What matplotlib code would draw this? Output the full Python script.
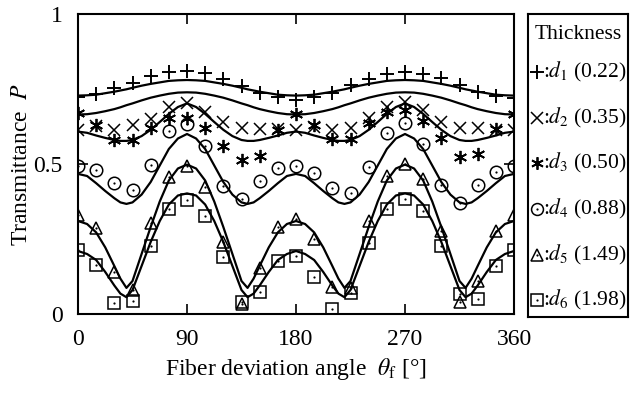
import numpy as np
import matplotlib
matplotlib.use("Agg")
import matplotlib.pyplot as plt

plt.rcParams["font.family"] = ["Liberation Serif", "DejaVu Serif"]
plt.rcParams["mathtext.fontset"] = "stix"

# ---------------- data ----------------
angles = [0, 15, 30, 45, 60, 75, 90, 105, 120, 135, 150, 165, 180,
          195, 210, 225, 240, 255, 270, 285, 300, 315, 330, 345, 360]

d1 = [0.722, 0.733, 0.752, 0.771, 0.792, 0.808, 0.811, 0.802, 0.782, 0.760, 0.737, 0.722, 0.714,
      0.722, 0.738, 0.762, 0.782, 0.801, 0.806, 0.800, 0.788, 0.762, 0.741, 0.727, 0.719]
d2 = [0.612, 0.628, 0.613, 0.630, 0.649, 0.691, 0.702, 0.674, 0.641, 0.619, 0.618, 0.616, 0.613,
      0.622, 0.613, 0.619, 0.652, 0.691, 0.708, 0.680, 0.641, 0.619, 0.619, 0.615, 0.613]
d3 = [0.669, 0.630, 0.580, 0.580, 0.619, 0.652, 0.652, 0.619, 0.559, 0.515, 0.527, 0.615, 0.666,
      0.630, 0.582, 0.582, 0.638, 0.674, 0.680, 0.643, 0.586, 0.524, 0.532, 0.617, 0.666]
d4 = [0.493, 0.481, 0.437, 0.412, 0.497, 0.610, 0.633, 0.560, 0.428, 0.384, 0.444, 0.486, 0.493,
      0.469, 0.419, 0.402, 0.491, 0.604, 0.638, 0.567, 0.430, 0.371, 0.430, 0.474, 0.493]
d5 = [0.330, 0.288, 0.140, 0.080, 0.302, 0.456, 0.492, 0.423, 0.240, 0.035, 0.154, 0.291, 0.316,
      0.249, 0.091, 0.086, 0.311, 0.460, 0.500, 0.449, 0.278, 0.041, 0.111, 0.278, 0.330]
d6 = [0.212, 0.162, 0.037, 0.044, 0.226, 0.349, 0.379, 0.327, 0.190, 0.040, 0.074, 0.176, 0.193,
      0.124, 0.016, 0.071, 0.238, 0.349, 0.382, 0.344, 0.227, 0.067, 0.049, 0.160, 0.213]

# fitted curves, read over one quarter period (0-90 deg); curves repeat symmetrically
curve_angles = [0, 7.5, 15, 22.5, 30, 35, 40, 45, 52.5, 60, 67.5, 75, 82.5, 90]
c1 = [0.728, 0.729, 0.731, 0.736, 0.741, 0.745, 0.749, 0.754, 0.761, 0.767, 0.772, 0.777, 0.779, 0.780]
c2 = [0.665, 0.666, 0.670, 0.676, 0.683, 0.689, 0.696, 0.702, 0.712, 0.721, 0.728, 0.734, 0.738, 0.739]
c3 = [0.608, 0.604, 0.595, 0.587, 0.580, 0.577, 0.577, 0.580, 0.593, 0.614, 0.640, 0.667, 0.690, 0.702]
c4 = [0.467, 0.460, 0.436, 0.410, 0.386, 0.372, 0.367, 0.372, 0.398, 0.440, 0.495, 0.550, 0.585, 0.600]
c5 = [0.310, 0.300, 0.272, 0.222, 0.160, 0.118, 0.087, 0.110, 0.200, 0.290, 0.375, 0.445, 0.485, 0.498]
c6 = [0.210, 0.200, 0.180, 0.140, 0.095, 0.068, 0.056, 0.080, 0.160, 0.240, 0.310, 0.365, 0.395, 0.402]

labels = ["1", "2", "3", "4", "5", "6"]
thick = ["0.22", "0.35", "0.50", "0.88", "1.49", "1.98"]
xticks = [0, 90, 180, 270, 360]
yticks = [0, 0.5, 1]
ytick_labels = ["0", "0.5", "1"]

# ---------------- helpers ----------------
def full_curve(a, v):
    a = np.asarray(a, float)
    v = np.asarray(v, float)
    fa = np.concatenate([a, 180 - a[::-1][1:], 180 + a[1:], 360 - a[::-1][1:]])
    fv = np.concatenate([v, v[::-1][1:], v[1:], v[::-1][1:]])
    return fa, fv

fig = plt.figure(figsize=(6.3, 3.94), dpi=100)
ax = fig.add_axes([78 / 630, 80 / 394, 436 / 630, 300 / 394])

for c in [c1, c2, c3, c4, c5, c6]:
    fa, fv = full_curve(curve_angles, c)
    ax.plot(fa, fv, color="black", lw=1.6, zorder=2, solid_joinstyle="round")

styles = [
    dict(marker="+", ms=10.5, mew=1.4, dot=False),
    dict(marker="x", ms=8.5, mew=1.1, dot=False),
    dict(marker=(6, 2, 0), ms=9.5, mew=1.3, dot=False),
    dict(marker="o", ms=9, mew=1.1, dot=True),
    dict(marker="^", ms=9, mew=1.1, dot=True),
    dict(marker="s", ms=9, mew=1.1, dot=True),
]
series = [d1, d2, d3, d4, d5, d6]
for s, st in zip(series, styles):
    ax.plot(angles, s, ls="none", marker=st["marker"], ms=st["ms"], mew=st["mew"],
            mec="black", mfc="none", zorder=3)
    if st["dot"]:
        ax.plot(angles, s, ls="none", marker="o", ms=1.6, mew=0, mfc="black", zorder=3)

ax.set_xlim(0, 360)
ax.set_ylim(0, 1)
ax.set_xticks(xticks)
ax.set_xticklabels([str(t) for t in xticks])
ax.set_yticks(yticks)
ax.set_yticklabels(ytick_labels)
ax.tick_params(direction="in", length=7, width=1.2, top=True, right=True,
               labelsize=17, colors="black")
ax.tick_params(axis="x", pad=11)
ax.tick_params(axis="y", pad=11)
for sp in ax.spines.values():
    sp.set_linewidth(1.5)
ax.set_xlabel(r"Fiber deviation angle  $\theta_{\mathrm{f}}$ [°]", fontsize=17, labelpad=4)
ax.set_ylabel(r"Transmittance  $P$", fontsize=17, labelpad=1)

# ---------------- legend box ----------------
lax = fig.add_axes([528 / 630, 77 / 394, 100 / 630, 303 / 394])
lax.set_xlim(0, 1)
lax.set_ylim(0, 1)
lax.set_xticks([])
lax.set_yticks([])
for sp in lax.spines.values():
    sp.set_linewidth(1.5)
lax.text(0.5, 0.931, "Thickness", ha="center", va="center", fontsize=15.5)
ypos = [0.809, 0.657, 0.508, 0.356, 0.205, 0.056]
for st, lab, th, yy in zip(styles, labels, thick, ypos):
    lax.plot([0.085], [yy], ls="none", marker=st["marker"], ms=st["ms"] * 0.95,
             mew=st["mew"], mec="black", mfc="none", clip_on=False)
    if st["dot"]:
        lax.plot([0.085], [yy], ls="none", marker="o", ms=1.6, mew=0, mfc="black")
    lax.text(0.15, yy, r":$d_{%s}$ (%s)" % (lab, th), ha="left", va="center", fontsize=15.5)

fig.savefig("out.png", dpi=100)
